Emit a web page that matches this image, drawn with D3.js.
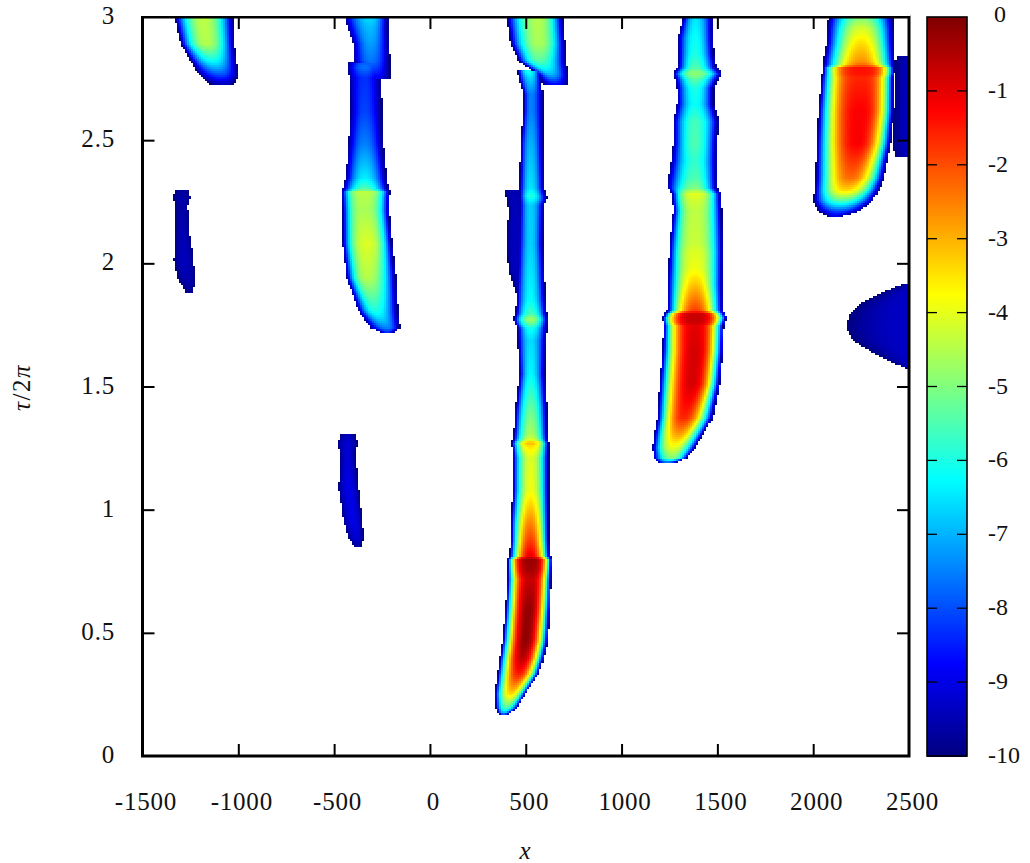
<!DOCTYPE html>
<html><head><meta charset="utf-8">
<script src="https://cdnjs.cloudflare.com/ajax/libs/d3/7.8.5/d3.min.js"></script>
<style>
html,body{margin:0;padding:0;background:#fff}
svg{display:block}
text{font-family:"Liberation Serif",serif;fill:#111}
</style></head><body>
<svg id="c" width="1030" height="863"></svg>
<script>
// Each row: [tau, left edge x, right edge x, crest x, crest value, profile exponent (optional)]
const plumeK = [[2.73,-1145,-1025,-1080,-9.5],[2.77,-1208,-1005,-1093,-8],[2.825,-1250,-1015,-1135,-6.2],[2.895,-1302,-1025,-1171,-4.5],[3.0,-1333,-1031,-1187,-4.4]];
const plumeL = [[1.884,-1276,-1234,-1250,-9.8],[1.945,-1317,-1229,-1270,-9.5],[2.014,-1338,-1234,-1285,-9.4],[2.148,-1328,-1260,-1295,-9.5],[2.237,-1328,-1265,-1295,-9.6],[2.27,-1344,-1250,-1297,-9.6],[2.30,-1328,-1265,-1297,-9.7]];
const plumeM = [[.849,-389,-363,-375,-9.7],[.889,-426,-347,-380,-9.2],[.958,-452,-353,-400,-9.0],[1.092,-478,-373,-420,-9.0],[1.23,-467,-389,-430,-9.2],[1.27,-483,-379,-430,-9.2],[1.307,-467,-389,-428,-9.4]];
const plumeI = [[1.72,-243,-196,-220,-8.5],[1.742,-311,-160,-222,-7.5],[1.81,-373,-170,-285,-6],[1.945,-436,-181,-327,-4.5,2.4],[2.083,-457,-201,-327,-4.1,2.8],[2.217,-457,-217,-342,-4.6,3],[2.27,-460,-215,-342,-4.5,3],[2.295,-462,-212,-342,-4.4,3.2],[2.305,-455,-220,-342,-5.4],[2.35,-440,-230,-342,-6.4],[2.49,-426,-248,-342,-7.5],[2.62,-415,-254,-342,-8.1],[2.757,-421,-259,-342,-8.3],[2.80,-431,-248,-342,-7.6],[2.815,-425,-250,-342,-7.8]];
const plumeJ = [[2.75,-295,-212,-270,-9],[2.825,-400,-212,-311,-7.6],[2.895,-400,-217,-311,-7.2],[2.96,-431,-222,-311,-6.9],[3.0,-447,-222,-311,-6.6]];
const plumeD = [[1.875,456,470,462,-9.8],[1.892,445,497,470,-9.5],[1.973,409,497,440,-9.4],[2.083,398,497,430,-9.4],[2.217,409,497,440,-9.4],[2.298,388,497,430,-9.5]];
const plumeA = [[.17,365,400,382,-8.6],[.179,351,419,382,-7],[.20,341,456,393,-5.5],[.256,336,497,419,-3.4],[.337,351,565,461,-1.5],[.40,362,591,480,-.6],[.471,377,612,497,-.15],[.605,393,623,513,-.2,2.4],[.72,403,628,523,-.7,2.8],[.76,403,630,523,-.35,3.2],[.804,403,633,523,-.25,3.4],[.812,414,623,523,-1,2.2],[.877,419,617,523,-1.8],[.946,419,617,523,-2.5],[1.011,425,617,523,-3.2],[1.08,430,617,523,-3.9],[1.214,430,617,523,-4.1],[1.26,427,617,523,-3.5,2.6],[1.275,424,617,523,-3,2.6],[1.29,433,612,523,-4.2],[1.311,435,610,523,-4.6],[1.417,445,607,523,-5.3],[1.555,466,596,523,-6.3],[1.69,456,602,523,-6.6]];
const plumeB = [[1.69,456,602,523,-6.6],[1.74,456,607,523,-6.1],[1.76,440,610,523,-5.2],[1.778,435,612,523,-4.6],[1.80,445,606,523,-5.6],[1.85,450,600,523,-6.2],[1.88,450,597,523,-6.3],[2.083,461,586,523,-6.7],[2.24,466,591,523,-6.7],[2.265,466,607,523,-6.2],[2.278,466,602,523,-5.9],[2.31,466,591,523,-6.5],[2.49,471,586,523,-7],[2.62,487,586,523,-7.5],[2.69,487,586,523,-7.5],[2.757,461,576,523,-6.6],[2.785,456,576,513,-6]];
const plumeC = [[2.73,591,716,654,-8.8],[2.77,565,716,628,-7],[2.825,461,706,565,-5.4],[2.895,419,701,565,-4.6],[3.0,398,690,560,-4.5]];
const plumeE = [[1.19,1200,1270,1235,-8.6],[1.198,1186,1295,1238,-7.5],[1.214,1165,1342,1264,-5],[1.255,1160,1384,1269,-4],[1.311,1170,1426,1295,-2.8],[1.376,1186,1473,1321,-1.6],[1.514,1196,1509,1368,-.85,2.4],[1.648,1212,1525,1384,-.85,2.6],[1.75,1217,1530,1384,-1,2.8],[1.762,1215,1535,1384,-.75,3.4],[1.782,1212,1545,1384,-.7,3.4],[1.802,1225,1532,1384,-.75,3.4],[1.81,1238,1525,1384,-1.8],[1.88,1238,1525,1384,-2.7],[1.92,1238,1525,1384,-3.2],[1.98,1243,1525,1384,-3.9,2.6],[2.054,1248,1525,1384,-4.1,2.8],[2.083,1250,1525,1384,-4.3,2.8],[2.217,1269,1520,1384,-4.4,2.8],[2.265,1264,1514,1384,-4.2,3],[2.285,1264,1514,1384,-4,3],[2.31,1238,1494,1384,-5],[2.35,1243,1494,1384,-5.5],[2.42,1258,1494,1384,-5.8],[2.49,1269,1494,1384,-5.5],[2.58,1269,1504,1384,-5.6],[2.65,1288,1478,1384,-6.2],[2.715,1288,1478,1384,-6],[2.75,1280,1500,1384,-5.4],[2.775,1269,1520,1384,-4.8,2.6],[2.80,1295,1490,1384,-5.5],[2.855,1295,1478,1384,-6],[2.92,1295,1473,1384,-6.2],[3.0,1321,1473,1384,-6.5]];
const plumeF = [[2.196,2072,2156,2110,-9],[2.217,2020,2244,2130,-8],[2.257,1999,2307,2140,-5.5],[2.30,2004,2340,2165,-3.4],[2.35,2010,2364,2192,-2.3],[2.49,2015,2401,2229,-1.2,2.4],[2.62,2025,2417,2244,-1.2,2.8],[2.757,2041,2417,2250,-1.6,3.2],[2.775,2046,2422,2255,-1.4,3.5],[2.80,2046,2422,2255,-1.4,3.5],[2.808,2051,2422,2255,-2.2],[2.825,2051,2422,2250,-2.7],[2.895,2067,2417,2250,-3.4],[2.96,2072,2415,2250,-4.2],[3.0,2077,2411,2250,-5]];
const plumeG = [[2.44,2427,2560,2520,-9.3],[2.48,2415,2560,2520,-9.3],[2.82,2430,2560,2520,-9.3],[2.84,2443,2560,2520,-9.4]];
const plumeH = [[1.575,2495,2560,2520,-9.3],[1.608,2390,2560,2520,-9.3],[1.648,2296,2560,2520,-9.3],[1.689,2208,2560,2520,-9.3],[1.742,2171,2560,2520,-9.3],[1.799,2192,2560,2520,-9.3],[1.839,2244,2560,2520,-9.3],[1.88,2349,2560,2520,-9.3],[1.92,2480,2560,2520,-9.3]];
const plumes = [plumeK,plumeL,plumeM,plumeI,plumeJ,plumeD,plumeA,plumeB,plumeC,plumeE,plumeF,plumeG,plumeH];

const xTicks = [-1500,-1000,-500,0,500,1000,1500,2000,2500];
const yTicks = [0,.5,1,1.5,2,2.5,3];
const cbTicks = [0,-1,-2,-3,-4,-5,-6,-7,-8,-9,-10];
const colorDomain = [-10,-8.75,-6.25,-3.75,-1.25,0];
const colorRange = ["#00007f","#0000ff","#00ffff","#ffff00","#ff0000","#7f0000"];

const svg = d3.select("#c");
const x = d3.scaleLinear().domain([-1500,2500]).range([142.5,909]);
const y = d3.scaleLinear().domain([0,3]).range([756,17]);
const cb = d3.scaleLinear().domain([-10,0]).range([756,17]);
const color = d3.scaleLinear().domain(colorDomain).range(colorRange).clamp(true);

const profiles = plumes.map(rows=>{
  const t = rows.map(r=>r[0]);
  const col = i => d3.scaleLinear().domain(t).range(rows.map(r=>r[i]));
  const pw = d3.scaleLinear().domain(t).range(rows.map(r=>r[5]===undefined?2.2:r[5]));
  return {lo:t[0],hi:t[t.length-1],l:col(1),r:col(2),c:col(3),p:col(4),pw};
});
function field(px,pt){
  let best=null;
  for(const P of profiles){
    if(pt<P.lo||pt>P.hi) continue;
    const l=P.l(pt), r=P.r(pt);
    if(px<l||px>r) continue;
    const c=P.c(pt), pk=P.p(pt);
    const d=px<c?(c-px)/(c-l):(px-c)/(r-c);
    const v=pk-(pk+10)*Math.pow(d,P.pw(pt));
    if(best===null||v>best) best=v;
  }
  return best;
}
const dx=10.5, dt=.00812;
const cells=[];
for(const gx of d3.range(-1500,2500,dx)) for(const gt of d3.range(0,3,dt)){
  const v=field(gx+dx/2,gt+dt/2);
  if(v!==null) cells.push({gx,gt,v});
}
svg.append("g").attr("shape-rendering","crispEdges").selectAll("rect").data(cells).join("rect")
  .attr("x",d=>x(d.gx)).attr("y",d=>y(d.gt+dt))
  .attr("width",x(dx)-x(0)+.6).attr("height",y(0)-y(dt)+.6)
  .attr("fill",d=>color(d.v));

// colour bar
const cbStep=.02;
svg.append("g").attr("shape-rendering","crispEdges").selectAll("rect").data(d3.range(-10,0,cbStep)).join("rect")
  .attr("x",927).attr("width",40).attr("y",d=>cb(d+cbStep)).attr("height",cb(0)-cb(cbStep)+.6)
  .attr("fill",d=>color(d+cbStep/2));
const cbInner=cbTicks.slice(1,-1);
svg.append("g").selectAll("line").data(cbInner.flatMap(v=>[[v,927,937],[v,957,967]])).join("line")
  .attr("x1",d=>d[1]).attr("x2",d=>d[2]).attr("y1",d=>cb(d[0])).attr("y2",d=>cb(d[0])).attr("stroke","#000").attr("stroke-width",1.3);
svg.append("rect").attr("x",927).attr("y",17).attr("width",40).attr("height",739).attr("fill","none").attr("stroke","#000").attr("stroke-width",1.6);
svg.append("g").selectAll("text").data(cbTicks).join("text")
  .attr("x",d=>d===0?994:988).attr("y",d=>cb(d)+(d===0?5:7)).attr("font-size",24).text(d=>d);

// axes
const fs=25;
const ax=(g,a)=>{ g.call(a); g.select(".domain").remove(); g.selectAll("line").attr("stroke","#000").attr("stroke-width",2); };
svg.append("g").attr("transform","translate(0,756)").call(g=>ax(g,d3.axisBottom(x).tickValues(xTicks.slice(1,-1)).tickSize(-12).tickFormat("")));
svg.append("g").attr("transform","translate(0,17)").call(g=>ax(g,d3.axisTop(x).tickValues(xTicks.slice(1,-1)).tickSize(-12).tickFormat("")));
svg.append("g").attr("transform","translate(142.5,0)").call(g=>ax(g,d3.axisLeft(y).tickValues(yTicks.slice(1,-1)).tickSize(-12).tickFormat("")));
svg.append("g").attr("transform","translate(909,0)").call(g=>ax(g,d3.axisRight(y).tickValues(yTicks.slice(1,-1)).tickSize(-12).tickFormat("")));
svg.append("g").selectAll("text").data(xTicks).join("text").attr("x",d=>x(d)+3.5).attr("y",810).attr("text-anchor","middle").attr("font-size",fs).attr("letter-spacing",.8).text(d=>d);
svg.append("g").selectAll("text").data(yTicks).join("text").attr("x",115).attr("y",d=>y(d)+7).attr("text-anchor","end").attr("font-size",fs).attr("letter-spacing",.8).text(d=>d);
// frame
svg.append("path").attr("d",`M142.5,17H909V756H142.5Z`).attr("fill","none").attr("stroke","#000").attr("stroke-width",3);
svg.append("rect").attr("x",141).attr("y",15).attr("width",769).attr("height",1).attr("fill","#fff");
// titles
svg.append("text").attr("x",525).attr("y",859).attr("text-anchor","middle").attr("font-size",25).attr("font-style","italic").text("x");
svg.append("text").attr("transform","translate(30,387.5) rotate(-90)").attr("text-anchor","middle").attr("font-size",25).attr("letter-spacing",1.5)
  .call(t=>{t.append("tspan").attr("font-style","italic").text("τ");t.append("tspan").text("/2");t.append("tspan").attr("font-style","italic").text("π");});
</script></body></html>
